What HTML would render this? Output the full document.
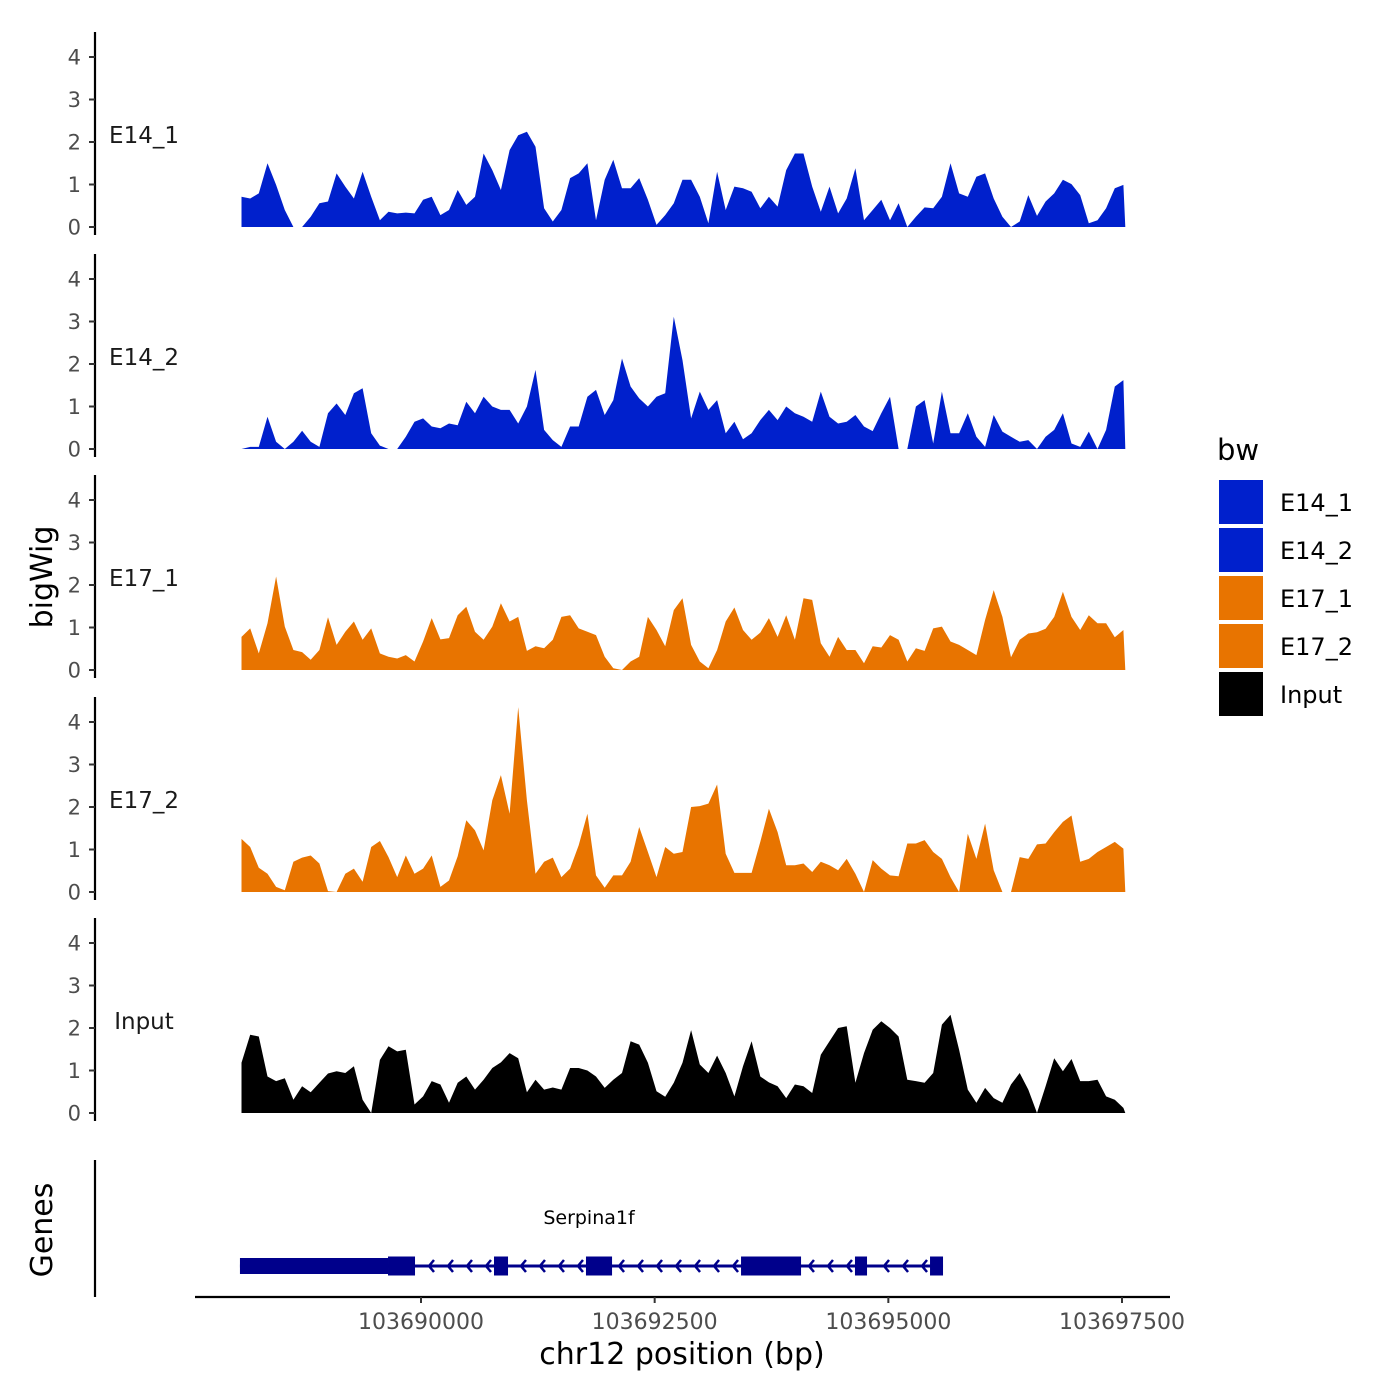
<!DOCTYPE html>
<html><head><meta charset="utf-8"><style>
html,body{margin:0;padding:0;background:#fff}
svg{display:block}
text{font-family:"DejaVu Sans","Liberation Sans",sans-serif}
</style></head><body>
<svg id="chart" width="1400" height="1400" viewBox="0 0 1400 1400" xmlns="http://www.w3.org/2000/svg">
<rect width="1400" height="1400" fill="#fff"/>
<g id="panels"></g>
<g id="genes"></g>
<g id="xaxis"></g>
<text x="52" y="577" font-size="30" text-anchor="middle" transform="rotate(-90 52 577)">bigWig</text>
<text x="52" y="1230" font-size="30" text-anchor="middle" transform="rotate(-90 52 1230)">Genes</text>
<text x="682" y="1364" font-size="30" text-anchor="middle">chr12 position (bp)</text>
<g id="legend"></g>
</svg>
<script>
const binStart = 103688080;
const binStep = 92.5;
const trackNames = ["E14_1","E14_2","E17_1","E17_2","Input"];
const trackColors = ["#0020cc","#0020cc","#e87400","#e87400","#000000"];
const e14_1 = [0.71,0.67,0.79,1.50,0.99,0.40,0,0,0.24,0.56,0.60,1.26,0.95,0.67,1.30,0.71,0.16,0.36,0.32,0.34,0.32,0.64,0.71,0.28,0.40,0.87,0.52,0.71,1.73,1.34,0.87,1.81,2.16,2.24,1.89,0.44,0.13,0.40,1.15,1.26,1.50,0.16,1.11,1.58,0.91,0.91,1.15,0.64,0.05,0.28,0.56,1.11,1.11,0.71,0.09,1.30,0.40,0.95,0.91,0.83,0.44,0.71,0.48,1.34,1.73,1.73,0.95,0.36,0.95,0.32,0.67,1.38,0.16,0.40,0.64,0.16,0.56,0,0.24,0.46,0.44,0.71,1.50,0.79,0.71,1.18,1.26,0.67,0.24,0,0.13,0.75,0.26,0.60,0.79,1.11,1.01,0.75,0.09,0.16,0.44,0.91,0.99];
const e14_2 = [0,0.05,0.05,0.76,0.17,0,0.17,0.43,0.17,0.05,0.84,1.07,0.80,1.31,1.43,0.37,0.08,0,0,0.29,0.64,0.72,0.53,0.49,0.60,0.56,1.11,0.84,1.23,1.00,0.92,0.92,0.60,1.00,1.86,0.45,0.21,0.05,0.53,0.53,1.23,1.39,0.80,1.15,2.13,1.47,1.19,1.00,1.23,1.31,3.11,2.09,0.72,1.35,0.92,1.15,0.37,0.64,0.23,0.37,0.68,0.92,0.68,1.00,0.84,0.76,0.64,1.35,0.76,0.60,0.64,0.80,0.53,0.42,0.84,1.23,0,0,1.00,1.15,0.13,1.35,0.37,0.37,0.84,0.29,0.05,0.80,0.41,0.29,0.17,0.21,0,0.29,0.45,0.84,0.13,0.05,0.41,0,0.45,1.47,1.62];
const e17_1 = [0.78,0.98,0.39,1.10,2.20,1.02,0.47,0.42,0.24,0.47,1.24,0.59,0.90,1.14,0.71,0.98,0.39,0.31,0.27,0.35,0.20,0.67,1.22,0.72,0.75,1.29,1.49,0.90,0.71,1.02,1.57,1.14,1.25,0.45,0.56,0.51,0.71,1.25,1.29,0.98,0.90,0.82,0.31,0.04,0,0.20,0.31,1.25,0.94,0.56,1.41,1.69,0.59,0.20,0.04,0.47,1.14,1.47,0.94,0.71,0.88,1.22,0.78,1.29,0.71,1.69,1.65,0.63,0.31,0.78,0.47,0.47,0.16,0.56,0.53,0.82,0.71,0.20,0.51,0.45,0.98,1.02,0.67,0.59,0.47,0.35,1.18,1.88,1.25,0.30,0.71,0.86,0.89,0.97,1.25,1.84,1.25,0.94,1.29,1.10,1.10,0.77,0.94];
const e17_2 = [1.25,1.06,0.57,0.43,0.12,0.04,0.71,0.81,0.86,0.67,0.02,0,0.43,0.55,0.24,1.06,1.20,0.82,0.35,0.86,0.43,0.55,0.86,0.12,0.27,0.84,1.69,1.45,0.98,2.16,2.75,1.84,4.35,2.16,0.43,0.71,0.81,0.35,0.55,1.10,1.84,0.39,0.10,0.39,0.39,0.71,1.53,0.94,0.35,1.06,0.90,0.94,2.00,2.02,2.08,2.53,0.90,0.45,0.45,0.45,1.18,1.96,1.41,0.63,0.63,0.67,0.47,0.71,0.63,0.51,0.78,0.43,0,0.75,0.55,0.39,0.37,1.14,1.14,1.22,0.94,0.78,0.35,0,1.37,0.78,1.61,0.51,0,0,0.82,0.78,1.12,1.14,1.41,1.65,1.80,0.71,0.78,0.94,1.06,1.18,1.02];
const input = [1.18,1.84,1.80,0.86,0.75,0.82,0.31,0.63,0.49,0.71,0.93,0.98,0.94,1.10,0.31,0,1.25,1.57,1.45,1.49,0.20,0.39,0.75,0.67,0.24,0.71,0.86,0.55,0.78,1.06,1.19,1.41,1.29,0.49,0.78,0.55,0.60,0.55,1.06,1.06,1.00,0.86,0.59,0.78,0.94,1.69,1.61,1.18,0.51,0.38,0.71,1.18,1.95,1.14,0.94,1.35,0.94,0.39,1.10,1.69,0.86,0.72,0.63,0.35,0.67,0.63,0.47,1.37,1.69,2.00,2.04,0.71,1.41,1.96,2.16,2.00,1.80,0.78,0.75,0.71,0.94,2.08,2.31,1.49,0.55,0.24,0.59,0.35,0.24,0.67,0.94,0.55,0,0.63,1.29,0.98,1.27,0.75,0.75,0.78,0.39,0.31,0.12];
const yTicks = [0,1,2,3,4];
const xTicks = [103690000,103692500,103695000,103697500];
const exonStarts = [103688063,103689647,103690781,103691765,103693424,103694643,103695446];
const exonEnds   = [103689647,103689936,103690931,103692044,103694066,103694772,103695585];
const exonThin   = [true,false,false,false,false,false,false];
const geneName = "Serpina1f";

const NS="http://www.w3.org/2000/svg";
function mk(tag,attrs,parent){const e=document.createElementNS(NS,tag);for(const k in attrs)e.setAttribute(k,attrs[k]);parent.appendChild(e);return e;}
const xs = bp => 421 + (bp-103690000)*233.67/2500;
const panelBase = [227,449,670,892,1113];
const unitPx = 42.5;
const ys = (p,v) => panelBase[p] - v*unitPx;
const series = [e14_1,e14_2,e17_1,e17_2,input];

const panels=document.getElementById('panels');
series.forEach((vals,p)=>{
  const g=mk('g',{},panels);
  
  
  const ax=mk('line',{x1:95,x2:95,y1:panelBase[p]-195,y2:panelBase[p]+8,stroke:'#000','stroke-width':2.2},g);
  
  
  yTicks.forEach(t=>{
    const tk=mk('line',{x1:89,x2:95,y1:ys(p,t),y2:ys(p,t),stroke:'#333','stroke-width':2},g);
    
    
    const tl=mk('text',{x:81,y:ys(p,t)+7.5,'font-size':21,fill:'#4d4d4d','text-anchor':'end'},g);
    
    
    tl.textContent=t;
  });
  const lab=mk('text',{x:144,y:panelBase[p]-84,'font-size':23,fill:'#1a1a1a','text-anchor':'middle'},g);
  
  
  lab.textContent=trackNames[p];
  let d='M'+xs(binStart).toFixed(1)+','+panelBase[p];
  vals.forEach((v,i)=>{d+=' L'+xs(binStart+i*binStep).toFixed(1)+','+ys(p,v).toFixed(1);});
  d+=' L'+xs(binStart+(vals.length-1)*binStep+20).toFixed(1)+','+panelBase[p]+' Z';
  const area=mk('path',{d:d,fill:trackColors[p]},g);
  
  
});

const gg=document.getElementById('genes');
const gax=mk('line',{x1:95,x2:95,y1:1160,y2:1297,stroke:'#000','stroke-width':2.2},gg);


const gy=1266;
const intr=mk('line',{x1:xs(exonStarts[0]),x2:xs(exonEnds[exonEnds.length-1]),y1:gy,y2:gy,stroke:'#00008b','stroke-width':3},gg);


for(let i=0;i<exonStarts.length-1;i++){
  const a=xs(exonEnds[i]),b=xs(exonStarts[i+1]);
  for(let x=b-8;x>a+6;x-=19){
    const ar=mk('path',{d:`M${x+5},${gy-6} L${x},${gy} L${x+5},${gy+6}`,stroke:'#00008b','stroke-width':2.5,fill:'none'},gg);
    
    
  }
}
exonStarts.forEach((s,i)=>{
  const h=exonThin[i]?16:19;
  const r=mk('rect',{x:xs(s),y:gy-h/2,width:xs(exonEnds[i])-xs(s),height:h,fill:'#00008b'},gg);
  
  
});
const gn=mk('text',{x:589,y:1224,'font-size':19,'text-anchor':'middle',fill:'#000'},gg);


gn.textContent=geneName;

const xa=document.getElementById('xaxis');
const xl=mk('line',{x1:195,x2:1170,y1:1297,y2:1297,stroke:'#000','stroke-width':2.2},xa);


xTicks.forEach(t=>{
  const tk=mk('line',{x1:xs(t),x2:xs(t),y1:1297,y2:1303,stroke:'#333','stroke-width':2},xa);
  
  
  const tl=mk('text',{x:xs(t),y:1329,'font-size':22,fill:'#4d4d4d','text-anchor':'middle'},xa);
  
  
  tl.textContent=t;
});

const lg=document.getElementById('legend');
const lt=mk('text',{x:1217,y:460,'font-size':29,fill:'#000'},lg);


lt.textContent='bw';
trackNames.forEach((n,i)=>{
  const y=480+i*48;
  const k=mk('rect',{x:1219,y:y,width:44,height:44,fill:trackColors[i]},lg);
  
  
  const t=mk('text',{x:1280,y:y+31,'font-size':24,fill:'#000'},lg);
  
  
  t.textContent=n;
});
</script>
</body></html>
